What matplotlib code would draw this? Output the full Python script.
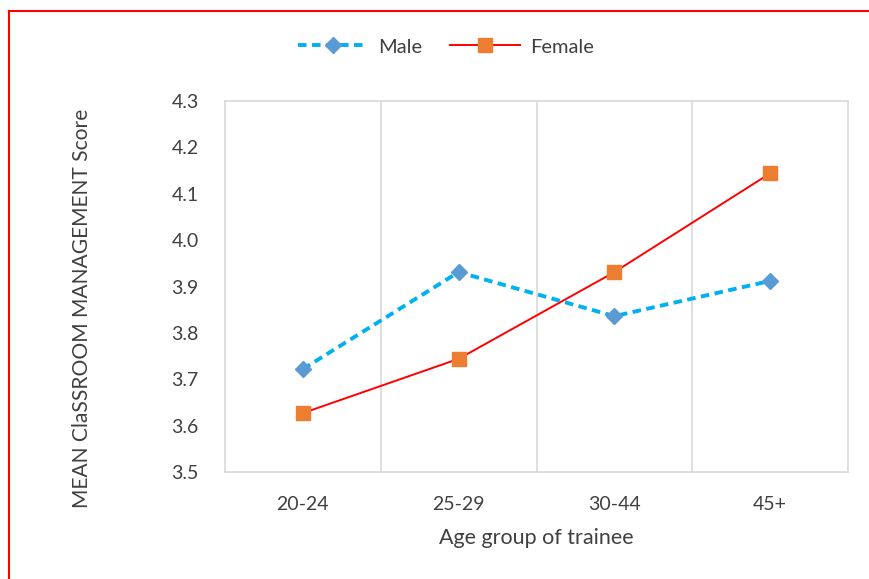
import matplotlib
matplotlib.use("Agg")
import matplotlib.pyplot as plt
from matplotlib.lines import Line2D

# data
age_groups = ["20-24", "25-29", "30-44", "45+"]
male = [3.722, 3.931, 3.836, 3.912]
female = [3.627, 3.744, 3.931, 4.144]
y_ticks = [3.5, 3.6, 3.7, 3.8, 3.9, 4.0, 4.1, 4.2, 4.3]

plt.rcParams['font.family'] = ['Lato', 'DejaVu Sans']
text_col = '#404040'
grid_col = '#d9d9d9'

fig = plt.figure(figsize=(8.7, 5.79), dpi=100)
ax = fig.add_axes([225 / 870, 1 - 472 / 579, (848 - 225) / 870, (472 - 101) / 579])

x = list(range(len(age_groups)))
ax.plot(x, male, color='#00b0f0', linestyle=(0, (2.2, 1.4)), linewidth=2.8,
        marker='D', markersize=8, markerfacecolor='#5b9bd5',
        markeredgecolor='#5b9bd5', label='Male', zorder=3)
ax.plot(x, female, color='#ff0000', linewidth=1.4,
        marker='s', markersize=10.5, markerfacecolor='#ed7d31',
        markeredgecolor='#ed7d31', label='Female', zorder=3)

ax.set_xlim(-0.5, len(age_groups) - 0.5)
ax.set_ylim(3.5, 4.3)
ax.set_xticks(x)
ax.set_xticklabels(age_groups)
ax.set_yticks(y_ticks)
ax.set_yticklabels([f"{v:.1f}" for v in y_ticks])

# vertical gridlines between categories
ax.set_xticks([i + 0.5 for i in x[:-1]], minor=True)
ax.grid(True, which='minor', axis='x', color=grid_col, linewidth=1.2)
ax.tick_params(which='both', length=0, colors=text_col, labelsize=14)
ax.tick_params(axis='x', pad=17)
ax.tick_params(axis='y', pad=19)
for side in ax.spines.values():
    side.set_color(grid_col)
    side.set_linewidth(1.2)

ax.set_xlabel("Age group of trainee", color=text_col, fontsize=15.5)
ax.set_ylabel("MEAN ClaSSROOM MANAGEMENT Score", color=text_col, fontsize=15.1)
ax.xaxis.set_label_coords(0.5, (472 - 538) / 371)
ax.xaxis.label.set_va('center')
ax.yaxis.set_label_coords((82 - 225) / 623, (472 - 308) / 371)
ax.yaxis.label.set_va('center')

fig.legend(loc='center', bbox_to_anchor=(446 / 870, 1 - 47 / 579), ncol=2,
           frameon=False, fontsize=14.5, handlelength=3.5, handletextpad=0.5,
           columnspacing=1.35, labelcolor=text_col)

# red outline, cropped at right and bottom
fig.add_artist(Line2D([9 / 870, 9 / 870], [0, 1 - 11 / 579], color='#ff0000', linewidth=1.5))
fig.add_artist(Line2D([9 / 870, 1], [1 - 11 / 579, 1 - 11 / 579], color='#ff0000', linewidth=1.5))

fig.savefig("out.png", dpi=100)
